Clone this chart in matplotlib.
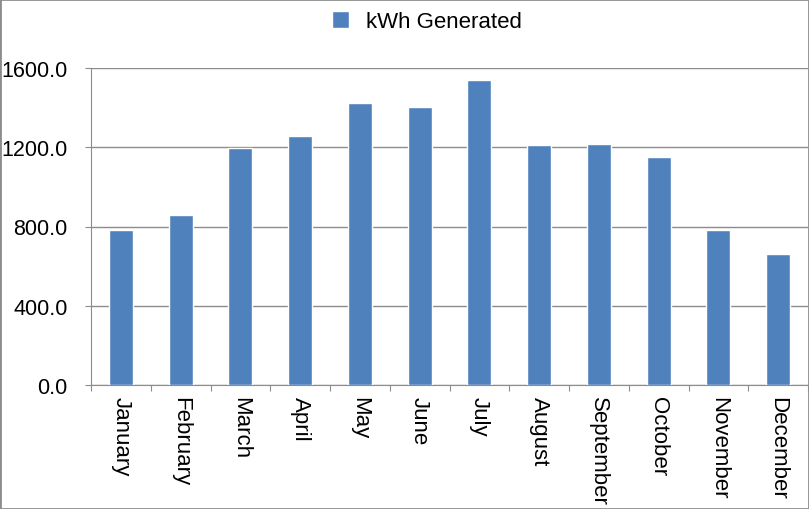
import numpy as np
import matplotlib.pyplot as plt

months = ['January', 'February', 'March', 'April', 'May', 'June', 'July',
          'August', 'September', 'October', 'November', 'December']
kwh = [782, 858, 1197, 1259, 1424, 1404, 1540, 1212, 1217, 1151, 782, 661]

plt.rcParams['font.family'] = ['Liberation Sans', 'DejaVu Sans']

fig = plt.figure(figsize=(8.09, 5.10), dpi=100)
ax = fig.add_axes([91 / 809, 1 - 386 / 510, 717 / 809, 317 / 510])

x = np.arange(len(months))
ax.bar(x, kwh, width=0.4, color='#4F81BD', edgecolor='white', linewidth=1,
       label='kWh Generated', zorder=3)

ax.set_xlim(-0.5, len(months) - 0.5)
ax.set_ylim(0, 1600)
ax.set_yticks([0, 400, 800, 1200, 1600])
ax.set_yticklabels(['%.1f' % v for v in [0, 400, 800, 1200, 1600]], fontsize=15.5)
ax.yaxis.grid(True, color='#8c8c8c', linewidth=1, zorder=0)

# ticks at category boundaries, labels at centres
ax.set_xticks(np.arange(-0.5, len(months), 1.0))
ax.set_xticklabels([])
ax.set_xticks(x, minor=True)
ax.set_xticklabels(months, minor=True, rotation=270, fontsize=16, va='top', ha='center')
ax.tick_params(axis='x', which='minor', length=0, pad=8)
ax.tick_params(axis='x', which='major', length=4, color='#8c8c8c')
ax.tick_params(axis='y', length=4, color='#8c8c8c', pad=13)

for s in ['top', 'right']:
    ax.spines[s].set_visible(False)
for s in ['left', 'bottom']:
    ax.spines[s].set_color('#8c8c8c')

fig.legend(loc='upper center', bbox_to_anchor=(0.528, 1.015), frameon=False,
           fontsize=16, handlelength=0.75, handleheight=0.75, handletextpad=0.8)

fig.patches.append(plt.Rectangle((0, 0), 1, 1, transform=fig.transFigure,
                                 fill=False, edgecolor='#8c8c8c', linewidth=2))

plt.savefig('out.png', dpi=100)
